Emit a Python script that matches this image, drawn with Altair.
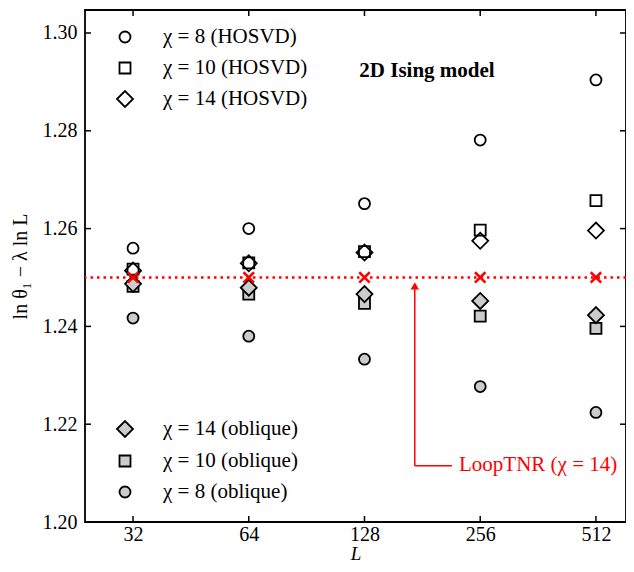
import altair as alt
import pandas as pd

# ---- data ----
L_values = [32, 64, 128, 256, 512]
hosvd_chi8 = [1.2560, 1.2600, 1.2651, 1.2781, 1.2904]
hosvd_chi10 = [1.2517, 1.2530, 1.2553, 1.2597, 1.2657]
hosvd_chi14 = [1.2514, 1.2529, 1.2551, 1.2575, 1.2596]
obl_chi14 = [1.2487, 1.2479, 1.2466, 1.2452, 1.2423]
obl_chi10 = [1.2482, 1.2466, 1.2447, 1.2421, 1.2396]
obl_chi8 = [1.2417, 1.2380, 1.2333, 1.2277, 1.2224]
loop_tnr = [1.2500, 1.2500, 1.2500, 1.2500, 1.2500]
loop_tnr_level = [1.2500]

x_ticks = [32, 64, 128, 256, 512]
y_ticks = [1.20, 1.22, 1.24, 1.26, 1.28, 1.30]

hosvd_labels = ["χ = 8 (HOSVD)", "χ = 10 (HOSVD)", "χ = 14 (HOSVD)"]
oblique_labels = ["χ = 14 (oblique)", "χ = 10 (oblique)", "χ = 8 (oblique)"]
annot_label = ["LoopTNR (χ = 14)"]
model_label = ["2D Ising model"]
x_title = "L"
y_title = "ln θ₁ − λ ln L"

FONT = "Liberation Serif"
FS = 20      # tick labels / axis titles
FT = 21      # in-plot texts
W, H = 541, 512
GRAY = "#cccccc"

x_scale = alt.Scale(type="log", base=2, domain=[24.0, 613], nice=False)
y_scale = alt.Scale(domain=[1.20, 1.3047], nice=False, zero=False)

xaxis = alt.Axis(values=x_ticks, format="d", title=x_title, tickSize=0, domain=False,
                 grid=False, labelPadding=2, labelFont=FONT, labelFontSize=FS,
                 labelColor="black", titleFont=FONT, titleFontSize=19,
                 titleFontStyle="italic", titleFontWeight="normal", titleColor="black",
                 titleBaseline="top", titleY=22)
yaxis = alt.Axis(values=y_ticks, format=".2f", title=y_title, tickSize=0, domain=False,
                 grid=False, labelPadding=8, labelFont=FONT, labelFontSize=FS,
                 labelColor="black", titleFont=FONT, titleFontSize=FS,
                 titleFontWeight="normal", titleColor="black", titlePadding=12)


def X(field="L"):
    return alt.X(f"{field}:Q", scale=x_scale, axis=xaxis)


def Y(field="v"):
    return alt.Y(f"{field}:Q", scale=y_scale, axis=yaxis)


def sdf(vals):
    return pd.DataFrame({"L": L_values, "v": vals})


def pts(vals, shape, size, open_):
    if open_:
        m = alt.Chart(sdf(vals)).mark_point(shape=shape, size=size, filled=False,
                                            stroke="black", strokeWidth=1.8, opacity=1)
    else:
        m = alt.Chart(sdf(vals)).mark_point(shape=shape, size=size, filled=True,
                                            fill=GRAY, stroke="black", strokeWidth=1.8,
                                            opacity=1)
    return m.encode(x=X(), y=Y())


layers = []

# dotted reference line
layers.append(alt.Chart(pd.DataFrame({"v": loop_tnr_level})).mark_rule(
    color="red", strokeDash=[2.5, 4], strokeWidth=2.5).encode(y=Y()))

# data points
layers.append(pts(obl_chi8, "circle", 121, False))
layers.append(pts(obl_chi10, "square", 121, False))
layers.append(pts(obl_chi14, "diamond", 256, False))
layers.append(pts(hosvd_chi8, "circle", 121, True))
layers.append(pts(hosvd_chi10, "square", 121, True))
layers.append(pts(hosvd_chi14, "diamond", 256, True))

# red crosses
layers.append(alt.Chart(sdf(loop_tnr)).mark_point(
    shape="M-1,-1L1,1M1,-1L-1,1", size=110, filled=False, stroke="red",
    strokeWidth=2.5, opacity=1).encode(x=X(), y=Y()))

# annotation arrow
arrow_x = 173
arrow_y0 = 1.2115
layers.append(alt.Chart(pd.DataFrame({"a": [0]})).mark_rule(color="red", strokeWidth=1.5).encode(
    x=alt.X(datum=arrow_x, scale=x_scale, axis=xaxis),
    y=alt.Y(datum=arrow_y0, scale=y_scale, axis=yaxis),
    y2=alt.Y2(datum=1.2480)))
layers.append(alt.Chart(pd.DataFrame({"a": [0]})).mark_rule(color="red", strokeWidth=1.5).encode(
    x=alt.X(datum=arrow_x, scale=x_scale, axis=xaxis),
    x2=alt.X2(datum=216),
    y=alt.Y(datum=arrow_y0, scale=y_scale, axis=yaxis)))
layers.append(alt.Chart(pd.DataFrame({"a": [0]})).mark_point(
    shape="triangle-up", size=70, filled=True, color="red", opacity=1).encode(
    x=alt.X(datum=arrow_x, scale=x_scale, axis=xaxis),
    y=alt.Y(datum=1.2483, scale=y_scale, axis=yaxis)))
layers.append(alt.Chart(pd.DataFrame({"t": annot_label})).mark_text(
    font=FONT, fontSize=FT, color="red", align="left", baseline="middle").encode(
    x=alt.value(374), y=alt.value(455), text="t:N"))

# model label
layers.append(alt.Chart(pd.DataFrame({"t": model_label})).mark_text(
    font=FONT, fontSize=FT, fontWeight="bold", color="black", align="center",
    baseline="middle").encode(x=alt.value(342), y=alt.value(61), text="t:N"))

# manual legend
leg_x, txt_x = 40, 78
hosvd_rows = [27, 58, 89]
obl_rows = [419, 451, 482]
for lab, yy, shp, sz in zip(hosvd_labels, hosvd_rows, ["circle", "square", "diamond"], [121, 121, 256]):
    layers.append(alt.Chart(pd.DataFrame({"t": [lab]})).mark_point(
        shape=shp, size=sz, filled=False, stroke="black", strokeWidth=1.8, opacity=1).encode(
        x=alt.value(leg_x), y=alt.value(yy)))
    layers.append(alt.Chart(pd.DataFrame({"t": [lab]})).mark_text(
        font=FONT, fontSize=FT, color="black", align="left", baseline="middle").encode(
        x=alt.value(txt_x), y=alt.value(yy), text="t:N"))
for lab, yy, shp, sz in zip(oblique_labels, obl_rows, ["diamond", "square", "circle"], [256, 121, 121]):
    layers.append(alt.Chart(pd.DataFrame({"t": [lab]})).mark_point(
        shape=shp, size=sz, filled=True, fill=GRAY, stroke="black", strokeWidth=1.8,
        opacity=1).encode(x=alt.value(leg_x), y=alt.value(yy)))
    layers.append(alt.Chart(pd.DataFrame({"t": [lab]})).mark_text(
        font=FONT, fontSize=FT, color="black", align="left", baseline="middle").encode(
        x=alt.value(txt_x), y=alt.value(yy), text="t:N"))

# inward ticks on all four sides
TL = 6
xt = pd.DataFrame({"L": x_ticks})
yt = pd.DataFrame({"v": y_ticks})
layers.append(alt.Chart(xt).mark_rule(color="black", strokeWidth=1.5).encode(
    x=X(), y=alt.value(H), y2=alt.value(H - TL)))
layers.append(alt.Chart(xt).mark_rule(color="black", strokeWidth=1.5).encode(
    x=X(), y=alt.value(0), y2=alt.value(TL)))
layers.append(alt.Chart(yt).mark_rule(color="black", strokeWidth=1.5).encode(
    y=Y(), x=alt.value(0), x2=alt.value(TL)))
layers.append(alt.Chart(yt).mark_rule(color="black", strokeWidth=1.5).encode(
    y=Y(), x=alt.value(W), x2=alt.value(W - TL)))

chart = alt.layer(*layers).properties(
    width=W, height=H,
    padding={"left": 77, "top": 2, "right": 0, "bottom": 42},
    autosize=alt.AutoSizeParams(type="none"),
    background="white",
).configure_view(stroke="black", strokeWidth=1.8)

chart.save("out.html", embed_options={"renderer": "svg", "actions": False})
